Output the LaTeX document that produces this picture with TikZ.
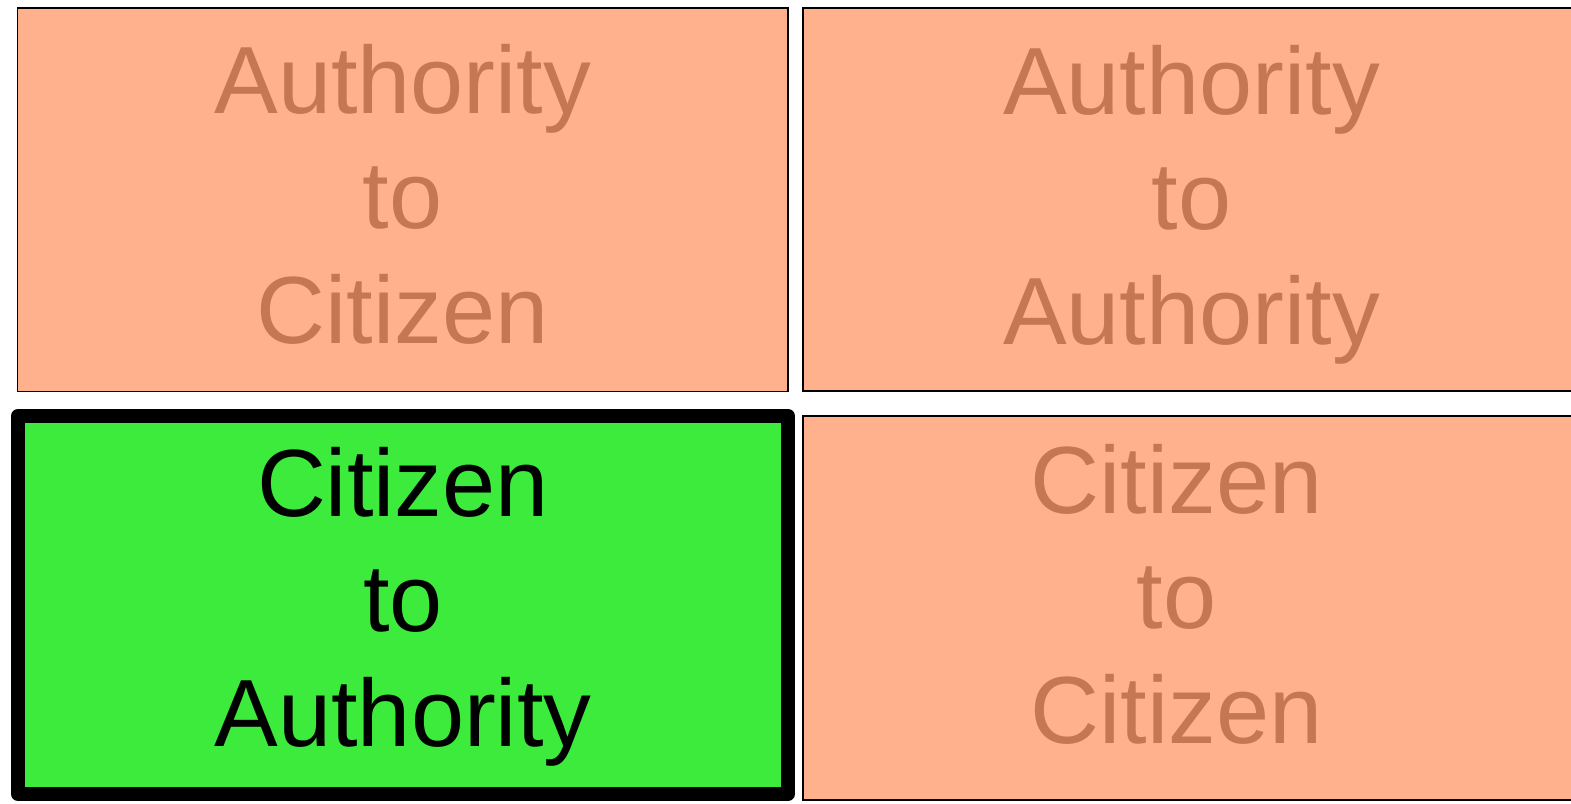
\documentclass[tikz,border=0pt]{standalone}
\usepackage{fontspec}
\setmainfont{Liberation Sans}
\usetikzlibrary{positioning}
\definecolor{salmon}{HTML}{FFB08C}
\definecolor{dimtext}{HTML}{C57752}
\definecolor{litgreen}{HTML}{3DEB3D}

\tikzset{
  card/.style={draw=black, line width=1.5pt, fill=salmon, inner sep=0pt},
  chosen/.style={card, fill=litgreen, line width=14pt, line join=round},
  cardtext/.style={text=dimtext, inner sep=0pt, align=center, font=\fontsize{95.5}{115}\selectfont},
  chosentext/.style={cardtext, text=black}
}

\begin{document}
\begin{tikzpicture}[x=1pt, y=-1pt]
		\useasboundingbox (0, 0) rectangle (1571, 803);
		% the four boxes
		\node[card, minimum width=770.5pt, minimum height=383.5pt] (ac) at (402.75, 199.75) {};
		\node[card, minimum width=777pt, minimum height=383pt] (aa) at (1191.5, 199.5) {};
		\node[chosen, minimum width=770pt, minimum height=378pt] (ca) at (403, 605) {};
		\node[card, minimum width=777pt, minimum height=384pt] (cc) at (1191.5, 608) {};
		% their texts
		\node[cardtext] (actext) at ([yshift=5pt]ac.center) {Authority\\to\\Citizen};
		\node[cardtext] (aatext) at ([yshift=-5pt]aa.center) {Authority\\to\\Authority};
		\node[chosentext] (catext) at ([yshift=-2pt]ca.center) {Citizen\\to\\Authority};
		\node[cardtext] (cctext) at ([xshift=-15pt, yshift=14pt]cc.center) {Citizen\\to\\Citizen};
	\end{tikzpicture}
\end{document}
